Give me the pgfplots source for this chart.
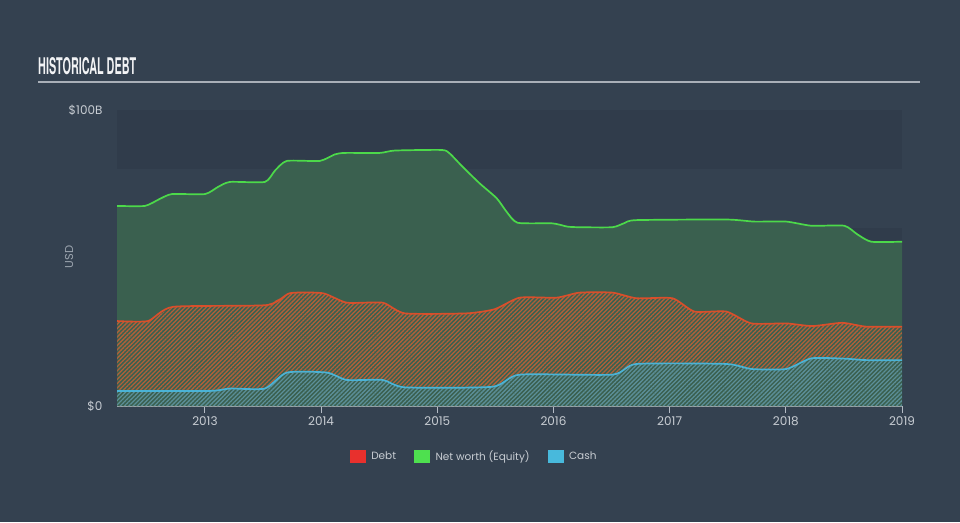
\documentclass[border=0pt]{standalone}
\usepackage{fontspec}
\setmainfont{Poppins}
\newfontfamily\titlefont{TeX Gyre Heros}
\usepackage{pgfplots}
\pgfplotsset{compat=1.18}
\usepackage{pgfplotstable}
\usetikzlibrary{patterns.meta}
\definecolor{bg}{HTML}{344150}
\definecolor{banddark}{HTML}{303C4B}
\definecolor{titlec}{HTML}{F2F3F5}
\definecolor{titleline}{HTML}{A9AFB8}
\definecolor{axisc}{HTML}{B4BBC5}
\definecolor{tickc}{HTML}{C8CDD3}
\definecolor{usdc}{HTML}{9AA3AD}
\definecolor{nwfill}{HTML}{3A604F}
\definecolor{nwline}{HTML}{4CD94A}
\definecolor{debtline}{HTML}{D94F2B}
\definecolor{debtstripe}{HTML}{B0603A}
\definecolor{cashline}{HTML}{4AB3D6}
\definecolor{cashstripe}{HTML}{5C8F98}
\definecolor{legred}{HTML}{E8302D}
\definecolor{leggreen}{HTML}{4EE04F}
\definecolor{legblue}{HTML}{48B9DC}

\pgfplotstableread{
x y
2012.243 67.6
2012.484 67.6
2012.613 70.0
2012.716 71.6
2013.000 71.6
2013.112 74.0
2013.215 75.7
2013.516 75.7
2013.602 79.5
2013.705 82.8
2013.989 82.8
2014.118 85.0
2014.204 85.5
2014.505 85.5
2014.634 86.3
2015.038 86.5
2015.107 85.3
2015.218 80.8
2015.365 75.2
2015.511 70.2
2015.597 65.6
2015.691 61.9
2015.992 61.7
2016.120 60.6
2016.224 60.4
2016.508 60.4
2016.611 61.8
2016.714 62.8
2017.488 63.0
2017.729 62.3
2018.004 62.3
2018.219 60.9
2018.503 60.9
2018.615 58.0
2018.735 55.5
2019.000 55.5
}\nwtable

\pgfplotstableread{
x y
2012.243 28.7
2012.510 28.7
2012.725 33.5
2013.533 34.1
2013.731 38.1
2014.015 38.1
2014.221 34.9
2014.531 34.9
2014.720 31.3
2015.253 31.3
2015.494 32.7
2015.709 36.6
2016.027 36.6
2016.224 38.3
2016.508 38.3
2016.714 36.4
2017.024 36.4
2017.213 31.9
2017.488 31.9
2017.703 27.9
2018.004 27.9
2018.228 27.0
2018.486 28.1
2018.692 26.8
2019.000 26.8
}\debttable

\pgfplotstableread{
x y
2012.243 5.1
2013.043 5.1
2013.215 5.9
2013.516 5.9
2013.705 11.3
2014.049 11.3
2014.221 8.8
2014.531 8.8
2014.720 6.3
2015.476 6.5
2015.709 10.6
2016.508 10.6
2016.714 14.2
2017.488 14.2
2017.703 12.5
2018.004 12.5
2018.219 16.1
2018.503 16.0
2018.692 15.5
2019.000 15.5
}\cashtable

\begin{document}
\begin{tikzpicture}
\fill[bg] (0,0) rectangle (960pt,522pt);
\node[anchor=south west, inner sep=0, text=titlec] at (38pt,447pt) {\resizebox{98pt}{17pt}{\titlefont\bfseries HISTORICAL DEBT}};
\draw[titleline, line width=1.5pt] (38pt,440pt) -- (920pt,440pt);
\node[rotate=90, text=usdc, font=\fontsize{11.5}{13}\selectfont] at (69pt,265pt) {USD};
\begin{axis}[
  at={(117pt,116pt)}, anchor=south west,
  width=785pt, height=296pt, scale only axis,
  xmin=2012.243, xmax=2019, ymin=0, ymax=100,
  enlargelimits=false,
  axis x line=bottom, axis y line=left,
  x axis line style={draw=axisc, line width=1pt, -},
  y axis line style={draw=none},
  xtick={2013,2014,2015,2016,2017,2018,2019},
  xticklabels={2013,2014,2015,2016,2017,2018,2019},
  ytick={0,100},
  yticklabels={\$0,\$100B},
  tick align=outside,
  major tick length=7pt,
  xtick style={draw=axisc, line width=1pt},
  ytick style={draw=none},
  tick label style={text=tickc, font=\fontsize{12}{14}\selectfont},
  yticklabel style={xshift=-4pt},
  /pgf/number format/assume math mode=true,
  legend columns=3,
  legend style={at={(0.455,-0.169)}, anchor=center, draw=none, fill=none,
    text=tickc, font=\fontsize{10.5}{12}\selectfont,
    /tikz/every even column/.append style={column sep=16pt}},
]
\fill[banddark] (axis cs:2012.243,80) rectangle (axis cs:2019,100);
\fill[banddark] (axis cs:2012.243,40) rectangle (axis cs:2019,60);
\fill[banddark] (axis cs:2012.243,0) rectangle (axis cs:2019,20);
\addplot[forget plot, draw=none, fill=nwfill] table {\nwtable} \closedcycle;
\addplot[forget plot, draw=none, pattern={Lines[angle=45,distance=3pt,line width=1.3pt]}, pattern color=debtstripe] table {\debttable} \closedcycle;
\addplot[forget plot, draw=none, fill=nwfill, postaction={pattern={Lines[angle=45,distance=3pt,line width=1.3pt]}, pattern color=cashstripe}] table {\cashtable} \closedcycle;
\addplot[forget plot, nwline, line width=1.7pt, smooth, tension=0.35] table {\nwtable};
\addplot[forget plot, debtline, line width=1.7pt, smooth, tension=0.35] table {\debttable};
\addplot[forget plot, cashline, line width=1.7pt, smooth, tension=0.35] table {\cashtable};
\addlegendimage{legend image code/.code={\fill[legred] (0pt,-6pt) rectangle (15pt,6pt); \path (19pt,0pt);}}
\addlegendentry{Debt}
\addlegendimage{legend image code/.code={\fill[leggreen] (0pt,-6pt) rectangle (15pt,6pt); \path (19pt,0pt);}}
\addlegendentry{Net worth (Equity)}
\addlegendimage{legend image code/.code={\fill[legblue] (0pt,-6pt) rectangle (15pt,6pt); \path (19pt,0pt);}}
\addlegendentry{Cash}
\end{axis}
\end{tikzpicture}
\end{document}
